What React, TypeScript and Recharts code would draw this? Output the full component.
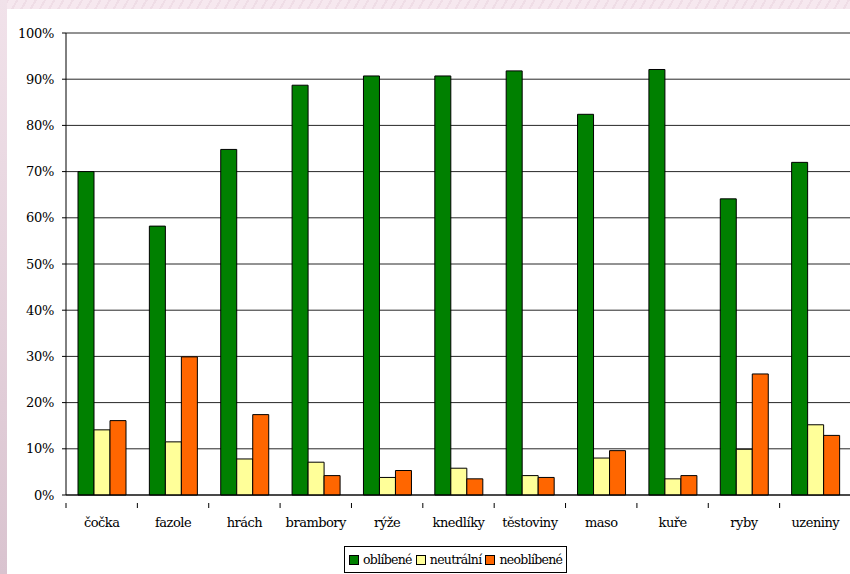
import { BarChart, Bar, XAxis, YAxis, CartesianGrid, Legend } from "recharts";

const categories = ["čočka", "fazole", "hrách", "brambory", "rýže", "knedlíky", "těstoviny", "maso", "kuře", "ryby", "uzeniny"];
const oblibene = [70.0, 58.2, 74.8, 88.7, 90.7, 90.7, 91.8, 82.4, 92.1, 64.1, 72.0];
const neutralni = [14.1, 11.5, 7.8, 7.1, 3.8, 5.8, 4.2, 8.0, 3.5, 9.9, 15.2];
const neoblibene = [16.1, 29.9, 17.4, 4.2, 5.3, 3.5, 3.8, 9.6, 4.2, 26.2, 12.9];
const yTicks = [0, 10, 20, 30, 40, 50, 60, 70, 80, 90, 100];

const series = [
  { key: "oblibene", name: "oblíbené", color: "#008000" },
  { key: "neutralni", name: "neutrální", color: "#FFFF99" },
  { key: "neoblibene", name: "neoblíbené", color: "#FF6600" },
];

const data = categories.map((name, i) => ({
  name,
  oblibene: oblibene[i],
  neutralni: neutralni[i],
  neoblibene: neoblibene[i],
}));

const W = 852;
const H = 574;
const margin = { top: 33, right: 1, left: 6, bottom: 0 };
const yAxisW = 60;
const band = (W - margin.left - margin.right - yAxisW) / categories.length;
const font = "DejaVu Serif";

const XTick = (props: any) => {
  const { x, y, payload } = props;
  const left = x - band / 2;
  return (
    <g>
      <line x1={left} x2={left} y1={y} y2={y + 5} stroke="#000" />
      <text
        x={x}
        y={y + 24}
        textAnchor="middle"
        fontSize={13}
        letterSpacing={-0.5}
        fontFamily={font}
        fill="#000"
      >
        {payload.value}
      </text>
    </g>
  );
};

const LegendBox = () => (
  <div
    style={{
      border: "1px solid #000",
      background: "#fff",
      display: "inline-flex",
      alignItems: "center",
      gap: 4,
      padding: "3px 4px",
      fontFamily: font,
      fontSize: 12.5,
      letterSpacing: -0.7,
      height: 19,
      whiteSpace: "nowrap",
      boxSizing: "content-box",
    }}
  >
    {series.map((s) => (
      <span key={s.key} style={{ display: "flex", alignItems: "center" }}>
        <span
          style={{
            display: "inline-block",
            width: 8,
            height: 8,
            background: s.color,
            border: "1px solid #000",
            marginRight: 4,
          }}
        />
        {s.name}
      </span>
    ))}
  </div>
);

export default function App() {
  return (
    <div
      style={{
        position: "absolute",
        left: 0,
        top: 0,
        width: 850,
        height: 574,
        overflow: "hidden",
        fontFamily: font,
        background:
          "repeating-linear-gradient(120deg, #f6e8ef 0px, #f6e8ef 6px, #efdde6 6px, #efdde6 8px)",
      }}
    >
      <div
        style={{
          position: "absolute",
          left: 0,
          top: 0,
          width: 7,
          height: 574,
          background: "linear-gradient(#f1e2ea, #d9c3cf)",
        }}
      />
      <div style={{ position: "absolute", left: 7, top: 9, width: 850, height: 570, background: "#fff" }} />
      <div style={{ position: "absolute", left: 0, top: 0 }}>
        <BarChart width={W} height={H} data={data} margin={margin} barGap={0} barSize={16}>
          <CartesianGrid vertical={false} stroke="#000" strokeOpacity={0.85} />
          <XAxis
            dataKey="name"
            height={79}
            axisLine={{ stroke: "#000" }}
            tickLine={false}
            tick={<XTick />}
            interval={0}
          />
          <YAxis
            width={yAxisW}
            domain={[0, 100]}
            ticks={yTicks}
            tickFormatter={(v: number) => `${v}%`}
            axisLine={{ stroke: "#000" }}
            tickLine={{ stroke: "#000" }}
            tickSize={4}
            tickMargin={8}
            tick={{ fontSize: 13, fontFamily: font, fill: "#000", letterSpacing: -0.3 }}
          />
          <Legend
            layout="horizontal"
            verticalAlign="middle"
            align="center"
            content={<LegendBox />}
            wrapperStyle={{ left: 344, top: 546, width: 240 }}
          />
          {series.map((s) => (
            <Bar
              key={s.key}
              dataKey={s.key}
              name={s.name}
              fill={s.color}
              stroke="#000"
              strokeWidth={1}
              isAnimationActive={false}
            />
          ))}
        </BarChart>
      </div>
    </div>
  );
}
